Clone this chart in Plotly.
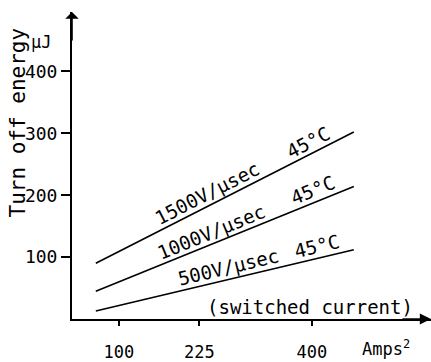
import math
import numpy as np
import plotly.graph_objects as go

# Switched current (Amps^2) at the ends of each curve
current_sq = [64, 465]

# Turn-off energy (µJ) for each dv/dt rating, at 45 °C
energy_1500 = [90, 302]
energy_1000 = [45, 214]
energy_500 = [13, 112]

rates = ["1500V/µsec", "1000V/µsec", "500V/µsec"]
temperature = "45°C"

x_ticks = [100, 225, 400]
y_ticks = [100, 200, 300, 400]

FONT = "DejaVu Sans Mono"
W, H = 431, 362
M = dict(l=72, r=0, t=12, b=40)
X_RANGE = [27, 585]
Y_RANGE = [0, 496]

# pixel scale of the plotting area, used to tilt the curve labels
px_x = (W - M["l"] - M["r"]) / (X_RANGE[1] - X_RANGE[0])
px_y = (H - M["t"] - M["b"]) / (Y_RANGE[1] - Y_RANGE[0])

fig = go.Figure()

series = [energy_1500, energy_1000, energy_500]
for name, ys in zip(rates, series):
    fig.add_trace(go.Scatter(
        x=current_sq, y=ys, mode="lines", name=name,
        line=dict(color="black", width=1.6), showlegend=False,
        hoverinfo="skip",
    ))

# where along each curve the two parts of its label sit (Amps^2)
label_spots = [(246, 403), (250, 408), (274, 412)]
label_gap = 12

annotations = []
for name, ys, (x_rate, x_temp) in zip(rates, series, label_spots):
    slope_px = (ys[1] - ys[0]) * px_y / ((current_sq[1] - current_sq[0]) * px_x)
    theta = math.atan(slope_px)
    dx = -label_gap * math.sin(theta)
    dy = label_gap * math.cos(theta)
    for text, xv in ((name, x_rate), (temperature, x_temp)):
        yv = float(np.interp(xv, current_sq, ys))
        annotations.append(dict(
            x=xv, y=yv, xref="x", yref="y", text=text, showarrow=False,
            textangle=-math.degrees(theta), xanchor="center", yanchor="middle",
            xshift=dx, yshift=dy,
            font=dict(family=FONT, size=19, color="black"),
        ))

# axis arrowheads
annotations.append(dict(
    x=0, y=1, xref="x domain", yref="y domain", ax=0, ay=30,
    showarrow=True, arrowhead=1, arrowsize=1.4, arrowwidth=1.6,
    arrowcolor="black", text="",
))
annotations.append(dict(
    x=1, y=0, xref="x domain", yref="y domain", ax=-30, ay=0,
    showarrow=True, arrowhead=2, arrowsize=1.4, arrowwidth=1.6,
    arrowcolor="black", text="",
))

# axis captions
annotations.append(dict(
    x=0.663, y=19, xref="x domain", yref="y", text="(switched current)",
    showarrow=False, xanchor="center", yanchor="middle",
    font=dict(family=FONT, size=19, color="black"),
))
annotations.append(dict(
    x=1, y=0, xref="x domain", yref="paper", text="Amps<sup>2</sup>",
    showarrow=False, xanchor="right", yanchor="middle", xshift=-19, yshift=-29,
    font=dict(family=FONT, size=17, color="black"),
))
annotations.append(dict(
    x=0, y=1, xref="paper", yref="paper", text="µJ",
    showarrow=False, xanchor="left", yanchor="top", xshift=-43, yshift=-18,
    font=dict(family=FONT, size=17, color="black"),
))
annotations.append(dict(
    x=0, y=0.5, xref="paper", yref="paper", text="Turn off energy",
    showarrow=False, textangle=-90, xanchor="left", yanchor="middle",
    xshift=-69, yshift=43,
    font=dict(family=FONT, size=21, color="black"),
))

fig.update_layout(
    width=W, height=H, margin=M,
    paper_bgcolor="white", plot_bgcolor="white",
    annotations=annotations,
    xaxis=dict(
        range=X_RANGE, tickvals=x_ticks, ticktext=[str(v) for v in x_ticks],
        showline=True, linecolor="black", linewidth=2, showgrid=False,
        zeroline=False, ticks="outside", ticklen=5, tickwidth=1.5,
        tickcolor="black", ticklabelstandoff=12,
        tickfont=dict(family=FONT, size=17, color="black"),
    ),
    yaxis=dict(
        range=Y_RANGE, tickvals=y_ticks, ticktext=[str(v) for v in y_ticks],
        showline=True, linecolor="black", linewidth=2, showgrid=False,
        zeroline=False, ticks="outside", ticklen=9, tickwidth=1.5,
        tickcolor="black", ticklabelstandoff=0,
        tickfont=dict(family=FONT, size=18, color="black"),
    ),
)

fig.write_html("out.html")
